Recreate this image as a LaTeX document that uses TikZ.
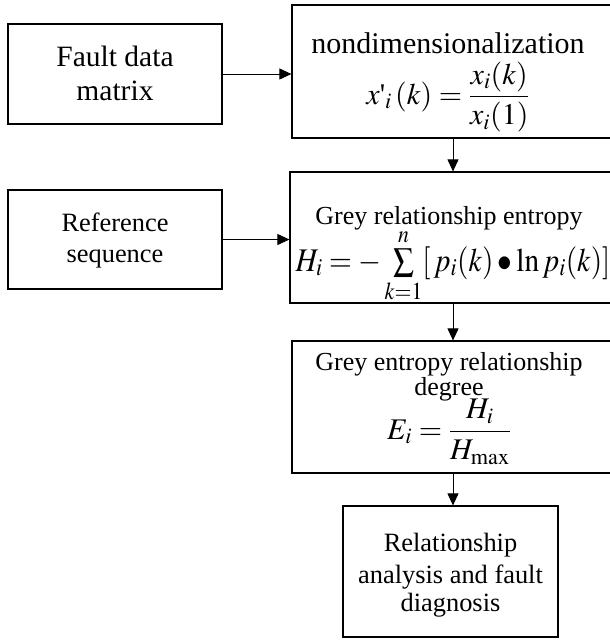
\documentclass[tikz,border=0pt]{standalone}
\usepackage{mathptmx}
\usepackage{fontspec}
\setmainfont{Liberation Serif}
\newfontfamily\rawserif{Liberation Serif}[Ligatures=TeXOff]
\usetikzlibrary{arrows.meta}
\begin{document}
\begin{tikzpicture}[x=1pt,y=-1pt,
  box/.style={draw, line width=1.2pt, inner sep=0pt},
  arr/.style={draw, line width=0.9pt, -{Triangle[length=12pt,width=11pt]}},
  txt/.style={inner sep=0pt, anchor=base},
  fml/.style={inner sep=0pt, font=\fontsize{30}{36}\selectfont}]
\useasboundingbox (0,0) rectangle (610,640);
\clip (0,0) rectangle (610,640);
\fill[white] (0,0) rectangle (610,640);
% boxes
\node[box, minimum width=214pt, minimum height=100pt] (fault) at (115,74) {};
\node[box, minimum width=322pt, minimum height=133pt] (nondim) at (453,71.5) {};
\node[box, minimum width=214pt, minimum height=99pt] (ref) at (115,239.5) {};
\node[box, minimum width=324pt, minimum height=131pt] (gre) at (452,237.5) {};
\node[box, minimum width=322pt, minimum height=132pt] (ged) at (453,407) {};
\node[box, minimum width=215pt, minimum height=131pt] (rel) at (450.5,571.5) {};
% texts
\node[txt, font=\fontsize{29.5}{34}\selectfont] (t1) at (115,66) {Fault data};
\node[txt, font=\fontsize{29.5}{34}\selectfont] (t2) at (115,100) {matrix};
\node[txt, font=\fontsize{26.4}{30}\selectfont] (t3) at (115,231) {Reference};
\node[txt, font=\fontsize{26.4}{30}\selectfont] (t4) at (115,262) {sequence};
\node[txt, font=\fontsize{30}{34}\selectfont] (t5) at (448,53) {nondimensionalization};
\node[fml] (f1) at (448,97) {$\displaystyle x\mbox{\rawserif '}_{i}\,(k)=\frac{x_{i}(k)}{x_{i}(1)}$};
\node[txt, font=\fontsize{26}{30}\selectfont] (t6) at (449,224) {Grey relationship entropy};
\node[fml, anchor=base, font=\fontsize{33}{38}\selectfont] (f2) at (453,271) {\scalebox{0.89}[1]{$H_{i}=-\sum\limits_{k=1}^{n}[\,p_{i}(k)\bullet\ln p_{i}(k)]$}};
\node[txt, font=\fontsize{26}{30}\selectfont] (t7) at (449,370) {Grey entropy relationship};
\node[txt, font=\fontsize{26}{30}\selectfont] (t8) at (449,395) {degree};
\node[fml] (f3) at (449,432) {$\displaystyle E_{i}=\frac{H_{i}}{H_{\max}}$};
\node[txt, font=\fontsize{26.4}{30}\selectfont] (t9) at (450.5,551) {Relationship};
\node[txt, font=\fontsize{26.4}{30}\selectfont] (t10) at (450.5,583) {analysis and fault};
\node[txt, font=\fontsize{26.4}{30}\selectfont] (t11) at (450.5,611) {diagnosis};
% arrows
\draw[arr] (fault.east) -- (fault.east -| nondim.west);
\draw[arr] (ref.east) -- (ref.east -| gre.west);
\draw[arr] (nondim.south) -- (gre.north -| nondim.south);
\draw[arr] (gre.south -| nondim.south) -- (ged.north -| nondim.south);
\draw[arr] (ged.south) -- (rel.north -| ged.south);
\end{tikzpicture}
\end{document}
